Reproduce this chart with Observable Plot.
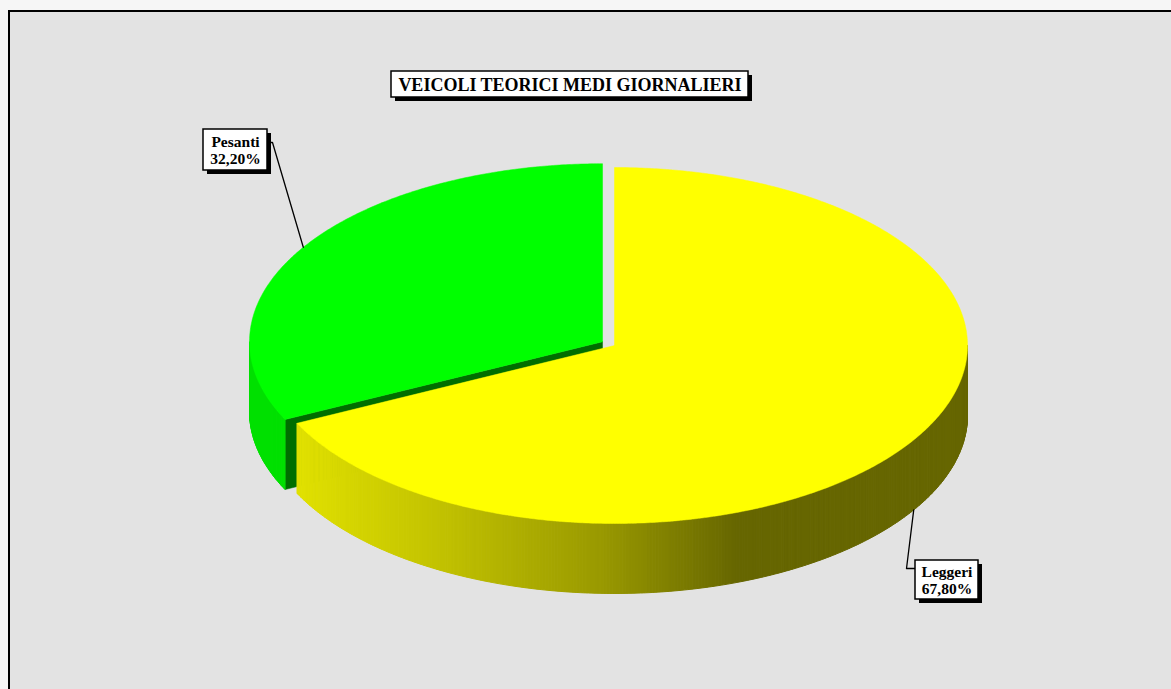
<!DOCTYPE html>
<html>
<head>
<meta charset="utf-8">
<script src="https://cdn.jsdelivr.net/npm/d3@7"></script>
<script src="https://cdn.jsdelivr.net/npm/@observablehq/plot@0.6"></script>
<style>
  html, body { margin: 0; padding: 0; background: #f6f6f6; }
  #chart { position: relative; width: 1171px; height: 689px; overflow: hidden; }
  #chart svg { display: block; }
</style>
</head>
<body>
<div id="chart"></div>
<script>
// Daily theoretical vehicles: share by vehicle class (percent)
const categories = ["Leggeri", "Pesanti"];
const shares = [67.8, 32.2];
const chartTitle = "VEICOLI TEORICI MEDI GIORNALIERI";

// Slice colours: top face, cut face
const topColors = ["#ffff00", "#00ff00"];
const faceColors = ["#666600", "#006e00"];

// Layout of the tilted pie (pixels)
const W = 1171, H = 689;
const pie3d = { cx: 614, cy: 345, rx: 353, ry: 178, depth: 70 };
const explode = [0, 0.04];          // how far each slice is pulled out, as a fraction of the radius
const sideShade = [                // brightness of the side wall across the pie, left to right
  [0.00, 0.88], [0.07, 0.88], [0.28, 0.75], [0.49, 0.60], [0.68, 0.40], [1.00, 0.40]
];

// Label boxes and their leader-line elbows
const labelLayout = [
  { x1: 915, y1: 560, x2: 978, y2: 599, elbow: [906, 568], attach: [915, 568] },
  { x1: 203, y1: 129, x2: 267, y2: 170, elbow: [272, 142], attach: [267, 142] }
];
const titleBox = { x1: 391, y1: 71, x2: 748, y2: 97 };
const shadowOffset = 4;
const frameBox = { x1: 9, y1: 11, x2: W + 20, y2: H + 20 };

const fmtPct = v => d3.format(".2f")(v).replace(".", ",") + "%";

// ---- geometry of the pie, computed from the shares ----
const arcs = d3.pie().sort(null).value(d => d)(shares);

const slices = arcs.map((a, i) => {
  const mid = (a.startAngle + a.endAngle) / 2;
  const k = explode[i];
  return {
    i, name: categories[i], value: shares[i],
    a0: a.startAngle, a1: a.endAngle, mid,
    cx: pie3d.cx + k * pie3d.rx * Math.sin(mid),
    cy: pie3d.cy - k * pie3d.ry * Math.cos(mid)
  };
});

function rim(s, a, dz = 0) {
  return { x: s.cx + pie3d.rx * Math.sin(a), y: s.cy - pie3d.ry * Math.cos(a) + dz };
}
function arcPoints(s, a0, a1, dz = 0) {
  const n = Math.max(2, Math.ceil(Math.abs(a1 - a0) / (Math.PI / 360)));
  return d3.range(n + 1).map(j => rim(s, a0 + (a1 - a0) * j / n, dz));
}
function topPolygon(s) {
  return [{ x: s.cx, y: s.cy }, ...arcPoints(s, s.a0, s.a1), { x: s.cx, y: s.cy }];
}
function facePolygon(s, a) {
  const r = rim(s, a);
  return [
    { x: s.cx, y: s.cy }, r, { x: r.x, y: r.y + pie3d.depth },
    { x: s.cx, y: s.cy + pie3d.depth }, { x: s.cx, y: s.cy }
  ];
}
// A cut face is seen when its outward normal points towards the viewer
function faceVisible(normalAngle) { return Math.cos(normalAngle) < -1e-6; }

// Side wall shade at a horizontal position
const shadeX0 = pie3d.cx - pie3d.rx - 12, shadeX1 = pie3d.cx + pie3d.rx;
const shadeAt = d3.scaleLinear().domain(sideShade.map(d => d[0])).range(sideShade.map(d => d[1])).clamp(true);
function sideColor(i, x) {
  const f = shadeAt((x - shadeX0) / (shadeX1 - shadeX0));
  const b = d3.rgb(topColors[i]);
  return d3.rgb(b.r * f, b.g * f, b.b * f).formatHex();
}
// Visible outer wall, cut into thin quads so each can carry its own shade
function sideQuads(s) {
  const lo = Math.max(s.a0, Math.PI / 2), hi = Math.min(s.a1, 3 * Math.PI / 2);
  if (hi <= lo) return [];
  const n = Math.ceil((hi - lo) / (Math.PI / 360));
  const out = [];
  for (let j = 0; j < n; j++) {
    const a = lo + (hi - lo) * j / n, b = lo + (hi - lo) * (j + 1) / n;
    const p = rim(s, a), q = rim(s, b);
    const color = sideColor(s.i, (p.x + q.x) / 2);
    const seg = s.name + "-" + j;
    for (const pt of [p, q, { x: q.x, y: q.y + pie3d.depth }, { x: p.x, y: p.y + pie3d.depth }, p]) {
      out.push({ ...pt, seg, color });
    }
  }
  return out;
}

// Draw the slice furthest back first
const drawOrder = slices.slice().sort((a, b) => Math.cos(b.mid) - Math.cos(a.mid));

const pieMarks = [];
for (const s of drawOrder) {
  const faces = [];
  if (faceVisible(s.a0 - Math.PI / 2)) faces.push(facePolygon(s, s.a0));
  if (faceVisible(s.a1 + Math.PI / 2)) faces.push(facePolygon(s, s.a1));
  for (const f of faces) {
    pieMarks.push(Plot.line(f, { x: "x", y: "y", fill: faceColors[s.i], stroke: faceColors[s.i], strokeWidth: 0.5 }));
  }
  const side = sideQuads(s);
  if (side.length) {
    pieMarks.push(Plot.line(side, { x: "x", y: "y", z: "seg", fill: "color", stroke: "color", strokeWidth: 1 }));
  }
  pieMarks.push(Plot.line(topPolygon(s), { x: "x", y: "y", fill: topColors[s.i], stroke: topColors[s.i], strokeWidth: 0.5 }));
}

// Leader lines from each slice to its label box
const leaders = slices.map(s => {
  const L = labelLayout[s.i];
  const front = Math.cos(s.mid) < 0;
  const p = rim(s, s.mid, front ? pie3d.depth : 0);
  return [p, { x: L.elbow[0], y: L.elbow[1] }, { x: L.attach[0], y: L.attach[1] }];
});

const labels = slices.map(s => ({
  ...labelLayout[s.i],
  text: s.name + "\n" + fmtPct(s.value)
}));

const serif = "'Liberation Serif', 'DejaVu Serif', serif";

const svg = Plot.plot({
  width: W,
  height: H,
  margin: 0,
  x: { domain: [0, W], range: [0, W], axis: null },
  y: { domain: [0, H], range: [0, H], axis: null },
  color: { type: "identity" },
  style: { background: "transparent", overflow: "visible" },
  marks: [
    // chart area
    Plot.rect([frameBox], { x1: "x1", y1: "y1", x2: "x2", y2: "y2", fill: "#e3e3e3", stroke: "#000", strokeWidth: 2 }),
    // title
    Plot.rect([titleBox], { x1: d => d.x1 + shadowOffset, y1: d => d.y1 + shadowOffset, x2: d => d.x2 + shadowOffset, y2: d => d.y2 + shadowOffset, fill: "#000" }),
    Plot.rect([titleBox], { x1: "x1", y1: "y1", x2: "x2", y2: "y2", fill: "#fff", stroke: "#000", strokeWidth: 1.5 }),
    Plot.text([chartTitle], {
      x: (titleBox.x1 + titleBox.x2) / 2, y: (titleBox.y1 + titleBox.y2) / 2 + 0.5,
      text: d => d, fontSize: 18, fontWeight: "bold", fontFamily: serif, fill: "#000"
    }),
    // pie
    ...pieMarks,
    // leader lines
    ...leaders.map(pts => Plot.line(pts, { x: "x", y: "y", stroke: "#000", strokeWidth: 1.3 })),
    // data labels
    Plot.rect(labels, { x1: d => d.x1 + shadowOffset, y1: d => d.y1 + shadowOffset, x2: d => d.x2 + shadowOffset, y2: d => d.y2 + shadowOffset, fill: "#000" }),
    Plot.rect(labels, { x1: "x1", y1: "y1", x2: "x2", y2: "y2", fill: "#fff", stroke: "#000", strokeWidth: 1.5 }),
    Plot.text(labels, {
      x: d => (d.x1 + d.x2) / 2, y: d => (d.y1 + d.y2) / 2 + 0.5,
      text: "text", fontSize: 15.5, lineHeight: 1.1, fontWeight: "bold", fontFamily: serif, fill: "#000"
    })
  ]
});

document.getElementById("chart").appendChild(svg);
</script>
</body>
</html>
